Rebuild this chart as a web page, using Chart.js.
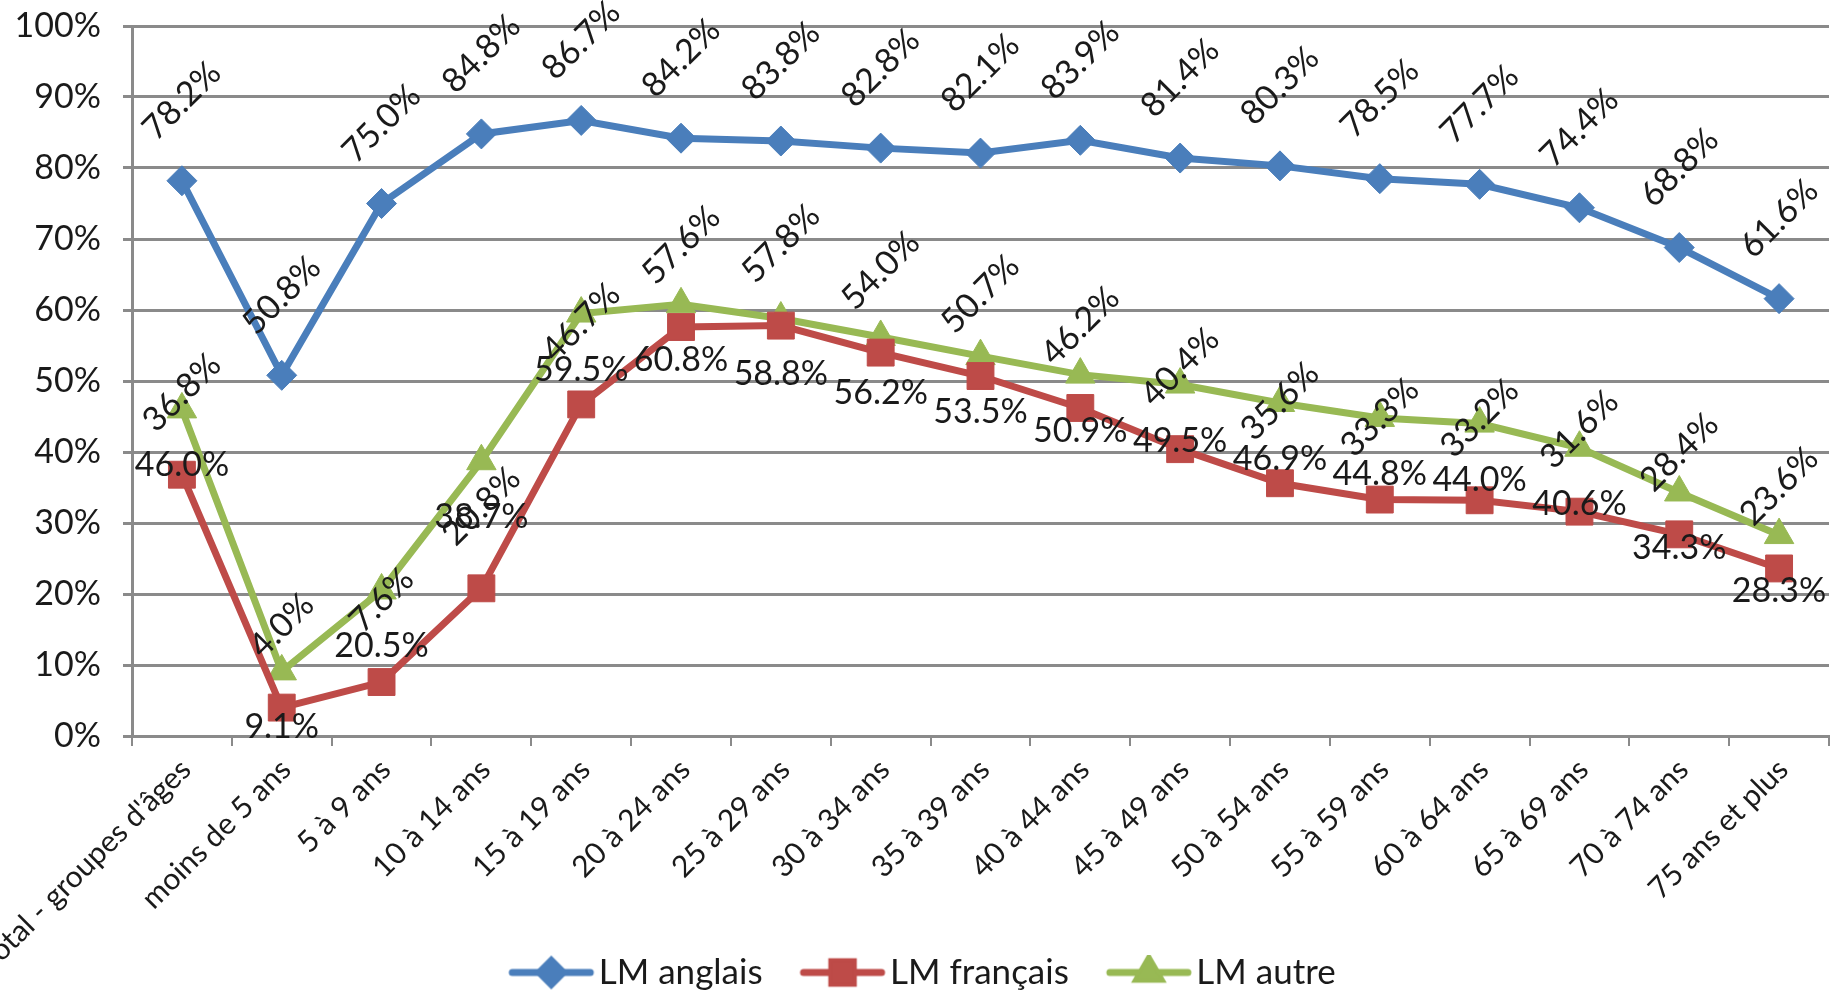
<!DOCTYPE html>
<html lang="fr">
  <head>
    <meta charset="utf-8" />
    <title>Langue maternelle par groupe d'âges</title>
    <style>
      * {
        margin: 0;
        padding: 0;
      }
      body {
        background: white;
      }
    </style>
  </head>
  <body>
    <canvas id="myChart" width="1837" height="990"></canvas>

    <script src="https://cdn.jsdelivr.net/npm/chart.js"></script>

    <script>
      // data block
      const ageGroups = [
        "Total - groupes d'âges",
        "moins de 5 ans",
        "5 à 9 ans",
        "10 à 14 ans",
        "15 à 19 ans",
        "20 à 24 ans",
        "25 à 29 ans",
        "30 à 34 ans",
        "35 à 39 ans",
        "40 à 44 ans",
        "45 à 49 ans",
        "50 à 54 ans",
        "55 à 59 ans",
        "60 à 64 ans",
        "65 à 69 ans",
        "70 à 74 ans",
        "75 ans et plus",
      ];
      const lmAnglais = [78.2, 50.8, 75.0, 84.8, 86.7, 84.2, 83.8, 82.8, 82.1, 83.9, 81.4, 80.3, 78.5, 77.7, 74.4, 68.8, 61.6];
      const lmFrancais = [36.8, 4.0, 7.6, 20.8, 46.7, 57.6, 57.8, 54.0, 50.7, 46.2, 40.4, 35.6, 33.3, 33.2, 31.6, 28.4, 23.6];
      const lmAutre = [46.0, 9.1, 20.5, 38.7, 59.5, 60.8, 58.8, 56.2, 53.5, 50.9, 49.5, 46.9, 44.8, 44.0, 40.6, 34.3, 28.3];
      const yTicks = [0, 10, 20, 30, 40, 50, 60, 70, 80, 90, 100];

      const FONT = "Lato, 'Open Sans', sans-serif";
      const TEXT = "#1a1a1a";
      const GRID = "#8a8a8a";
      const PLOT_BOTTOM = 736;
      const LEGEND_SHIFT = 10;

      // legend sample: line with marker in the middle, like the office chart
      const legendSample = (color, style, radius) => {
        const c = document.createElement("canvas");
        c.width = 90;
        c.height = 36;
        const g = c.getContext("2d");
        g.strokeStyle = color;
        g.lineWidth = 7;
        g.lineCap = "round";
        g.beginPath();
        g.moveTo(6, 18);
        g.lineTo(84, 18);
        g.stroke();
        Chart.helpers.drawPoint(g, { pointStyle: style, radius: radius, rotation: 0, borderWidth: 1 }, 45, 18);
        g.fillStyle = color;
        g.fill();
        return c;
      };

      const datasets = [
        {
          label: "LM anglais",
          data: lmAnglais,
          borderColor: "#4a7ebb",
          backgroundColor: "#4a7ebb",
          pointStyle: "rectRot",
          pointRadius: 15,
          labelAngle: -Math.PI / 4,
          labelOffset: -80,
        },
        {
          label: "LM français",
          data: lmFrancais,
          borderColor: "#be4b48",
          backgroundColor: "#be4b48",
          pointStyle: "rect",
          pointRadius: 19,
          labelAngle: -Math.PI / 4,
          labelOffset: -82,
        },
        {
          label: "LM autre",
          data: lmAutre,
          borderColor: "#98b954",
          backgroundColor: "#98b954",
          pointStyle: "triangle",
          pointRadius: 17,
          labelAngle: 0,
          labelOffset: 56,
        },
      ];

      // value labels drawn on top of the lines
      const valueLabels = {
        id: "valueLabels",
        afterLayout(chart) {
          // let the rotated category names run down to the bottom edge
          chart.scales.x.bottom = chart.height;
          // nudge the legend row so it sits centred like the original
          chart.legend.left += 14;
          chart.legend.right += 14;
        },
        afterDatasetsDraw(chart) {
          const { ctx } = chart;
          ctx.save();
          ctx.font = "34px " + FONT;
          ctx.fillStyle = TEXT;
          ctx.textAlign = "center";
          ctx.textBaseline = "middle";
          chart.data.datasets.forEach((ds, i) => {
            chart.getDatasetMeta(i).data.forEach((pt, j) => {
              ctx.save();
              ctx.translate(pt.x, pt.y + ds.labelOffset);
              ctx.rotate(ds.labelAngle);
              ctx.fillText(ds.data[j].toFixed(1) + "%", 0, 0);
              ctx.restore();
            });
          });
          ctx.restore();
        },
      };

      const config = {
        type: "line",
        data: {
          labels: ageGroups,
          datasets: datasets.map((d) => ({
            ...d,
            borderWidth: 7,
            pointBorderWidth: 1,
            pointHoverRadius: d.pointRadius,
            tension: 0,
          })),
        },
        options: {
          responsive: false,
          animation: false,
          events: [],
          layout: {
            autoPadding: false,
            padding: { left: 0, right: 8, top: 26, bottom: -LEGEND_SHIFT },
          },
          scales: {
            x: {
              offset: true,
              grid: {
                drawOnChartArea: false,
                offset: true,
                color: GRID,
                lineWidth: 2,
                tickLength: 10,
              },
              border: { color: GRID, width: 3 },
              ticks: {
                autoSkip: false,
                minRotation: 45,
                maxRotation: 45,
                padding: 6,
                labelOffset: 4,
                color: TEXT,
                font: { family: FONT, size: 30 },
              },
              afterFit(scale) {
                scale.paddingLeft = 0;
                scale.paddingRight = 0;
                scale.height = 990 + LEGEND_SHIFT - PLOT_BOTTOM - scale.chart.legend.height;
              },
            },
            y: {
              min: 0,
              max: 100,
              afterBuildTicks(scale) {
                scale.ticks = yTicks.map((v) => ({ value: v }));
              },
              grid: { color: GRID, lineWidth: 3, tickLength: 9 },
              border: { color: GRID, width: 3 },
              ticks: {
                padding: 22,
                color: TEXT,
                font: { family: FONT, size: 34 },
                callback: (v) => v + "%",
              },
              afterFit(scale) {
                scale.width = 132;
                scale.paddingTop = 0;
                scale.paddingBottom = 0;
              },
            },
          },
          plugins: {
            tooltip: { enabled: false },
            legend: {
              position: "bottom",
              labels: {
                usePointStyle: true,
                pointStyleWidth: 60,
                padding: 50,
                color: TEXT,
                font: { family: FONT, size: 35 },
                generateLabels: (chart) =>
                  chart.data.datasets.map((ds, i) => ({
                    text: ds.label,
                    datasetIndex: i,
                    fontColor: TEXT,
                    lineWidth: 0,
                    pointStyle: legendSample(ds.borderColor, ds.pointStyle, ds.pointRadius * 0.8),
                  })),
              },
            },
          },
        },
        plugins: [valueLabels],
      };

      // init render block
      const ctx = document.getElementById("myChart");
      const myChart = new Chart(ctx, config);
    </script>
  </body>
</html>
